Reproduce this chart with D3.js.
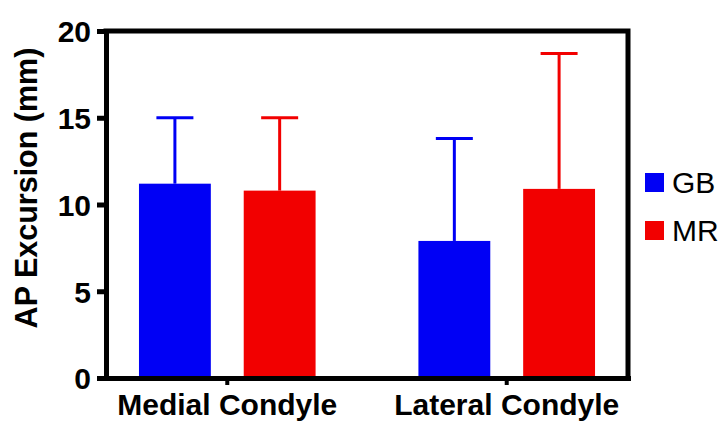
<!DOCTYPE html>
<html>
<head>
<meta charset="utf-8">
<script src="https://cdn.jsdelivr.net/npm/d3@7"></script>
<style>
  body { margin: 0; background: #fff; }
  svg { display: block; font-family: "Liberation Sans", Arial, Helvetica, sans-serif; }
</style>
</head>
<body>
<div id="chart"></div>
<script>
// data
const categories = ["Medial Condyle", "Lateral Condyle"];
const groups = ["GB", "MR"];
const gbMeans = [11.2, 7.9];
const gbSD = [3.8, 5.9];
const mrMeans = [10.8, 10.9];
const mrSD = [4.2, 7.8];
const yTicks = [0, 5, 10, 15, 20];
const colors = {GB: "#0000f5", MR: "#f20000"};

const width = 722, height = 422;
const margin = {top: 31, right: 94, bottom: 44, left: 106};

const svg = d3.select("#chart").append("svg")
    .attr("width", width)
    .attr("height", height);

const x0 = d3.scaleBand()
    .domain(categories)
    .range([margin.left, width - margin.right])
    .paddingInner(0.368)
    .paddingOuter(0.118);

const x1 = d3.scaleBand()
    .domain(groups)
    .range([0, x0.bandwidth()])
    .paddingInner(0.314);

const y = d3.scaleLinear()
    .domain([0, 20])
    .range([height - margin.bottom, margin.top]);

const rows = [];
categories.forEach((c, i) => {
    rows.push({cat: c, grp: "GB", mean: gbMeans[i], sd: gbSD[i]});
    rows.push({cat: c, grp: "MR", mean: mrMeans[i], sd: mrSD[i]});
});

// bars
svg.append("g")
  .selectAll("rect")
  .data(rows)
  .join("rect")
    .attr("x", d => x0(d.cat) + x1(d.grp))
    .attr("y", d => y(d.mean))
    .attr("width", x1.bandwidth())
    .attr("height", d => y(0) - y(d.mean))
    .attr("fill", d => colors[d.grp]);

// error bars (upper only)
const err = svg.append("g")
    .attr("stroke-width", 3)
  .selectAll("g")
  .data(rows)
  .join("g")
    .attr("stroke", d => colors[d.grp]);

err.append("line")
    .attr("x1", d => x0(d.cat) + x1(d.grp) + x1.bandwidth() / 2)
    .attr("x2", d => x0(d.cat) + x1(d.grp) + x1.bandwidth() / 2)
    .attr("y1", d => y(d.mean))
    .attr("y2", d => y(d.mean + d.sd));

err.append("line")
    .attr("x1", d => x0(d.cat) + x1(d.grp) + x1.bandwidth() / 2 - 18.5)
    .attr("x2", d => x0(d.cat) + x1(d.grp) + x1.bandwidth() / 2 + 18.5)
    .attr("y1", d => y(d.mean + d.sd))
    .attr("y2", d => y(d.mean + d.sd));

// frame: top and right sides
svg.append("path")
    .attr("d", `M${margin.left},${y(20)}H${width - margin.right}V${y(0)}`)
    .attr("fill", "none")
    .attr("stroke", "#000")
    .attr("stroke-width", 5)
    .attr("stroke-linecap", "square");

// y axis
const yAxis = svg.append("g")
    .attr("transform", `translate(${margin.left},0)`)
    .call(d3.axisLeft(y).tickValues(yTicks).tickSize(9).tickSizeOuter(0).tickPadding(6));

yAxis.select(".domain").attr("stroke-width", 5).attr("stroke-linecap", "square");
yAxis.selectAll(".tick line").attr("stroke-width", 5);
yAxis.selectAll(".tick text")
    .attr("font-family", "'Liberation Sans', Arial, sans-serif")
    .attr("font-size", 30)
    .attr("font-weight", "bold")
    .attr("fill", "#000")
    .attr("dy", "0.36em");

// x axis
const xAxis = svg.append("g")
    .attr("transform", `translate(0,${y(0)})`)
    .call(d3.axisBottom(x0).tickSize(7).tickSizeOuter(0).tickPadding(9));

xAxis.select(".domain").attr("stroke-width", 5).attr("stroke-linecap", "square");
xAxis.selectAll(".tick line").attr("stroke-width", 4);
xAxis.selectAll(".tick text")
    .attr("font-family", "'Liberation Sans', Arial, sans-serif")
    .attr("font-size", 30)
    .attr("font-weight", "bold")
    .attr("fill", "#000")
    .attr("dy", "0.71em");

// y axis title
svg.append("text")
    .attr("transform", "translate(37,188) rotate(-90)")
    .attr("text-anchor", "middle")
    .attr("font-size", 30.5)
    .attr("font-weight", "bold")
    .text("AP Excursion (mm)");

// legend
const legend = svg.append("g")
    .attr("transform", "translate(645,173)")
  .selectAll("g")
  .data(groups)
  .join("g")
    .attr("transform", (d, i) => `translate(0,${i * 48})`);

legend.append("rect")
    .attr("width", 19)
    .attr("height", 19)
    .attr("fill", d => colors[d]);

legend.append("text")
    .attr("x", 27)
    .attr("y", 20)
    .attr("font-size", 30)
    .text(d => d);
</script>
</body>
</html>
